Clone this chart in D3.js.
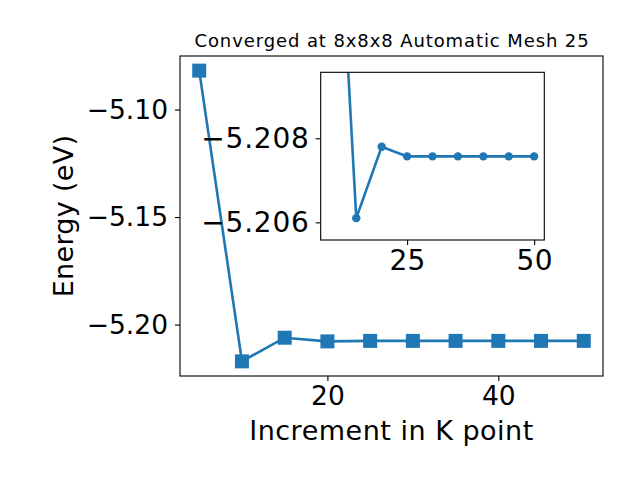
<!DOCTYPE html>
<html><head><meta charset="utf-8">
<script src="https://cdn.jsdelivr.net/npm/d3@7"></script>
<style>body{margin:0;background:#fff}svg{display:block}text{font-family:"DejaVu Sans",sans-serif;fill:#000}</style>
</head><body>
<svg id="c" width="640" height="480"></svg>
<script>
const kpoints = [5, 10, 15, 20, 25, 30, 35, 40, 45, 50];
const energy = [-5.0819, -5.2171, -5.2061, -5.2078, -5.20757, -5.20757, -5.20757, -5.20757, -5.20757, -5.20757];
const insetKpoints = [10, 15, 20, 25, 30, 35, 40, 45, 50];
const insetEnergy = [-5.2171, -5.2061, -5.2078, -5.20757, -5.20757, -5.20757, -5.20757, -5.20757, -5.20757];
const mainXTicks = [20, 40];
const mainYTicks = [-5.10, -5.15, -5.20];
const insetXTicks = [25, 50];
const insetYTicks = [-5.208, -5.206];
const titleText = "Converged at 8x8x8 Automatic Mesh 25";
const xLabel = "Increment in K point";
const yLabel = "Energy (eV)";

const color = "#1f77b4";
const svg = d3.select("#c");
const fmtMinus = s => s.replace("-", "\u2212");

function styleAxis(g, size, spacing) {
  g.select(".domain").remove();
  g.selectAll("text").style("font-size", size + "px").style("font-family", "DejaVu Sans")
    .style("letter-spacing", spacing + "px");
  g.selectAll("line").attr("stroke", "#000").attr("stroke-width", 1.1);
}

// main axes
const M = {l: 180, r: 603, t: 56, b: 376};
const x = d3.scaleLinear().domain([2.75, 52.25]).range([M.l, M.r]);
const y = d3.scaleLinear().domain([-5.2239, -5.0751]).range([M.b, M.t]);

const main = svg.append("g");
main.append("defs").append("clipPath").attr("id", "mclip")
  .append("rect").attr("x", M.l).attr("y", M.t).attr("width", M.r - M.l).attr("height", M.b - M.t);

const gx = main.append("g").attr("transform", `translate(0,${M.b})`)
  .call(d3.axisBottom(x).tickValues(mainXTicks).tickSize(5).tickPadding(5).tickFormat(d3.format("d")));
const gy = main.append("g").attr("transform", `translate(${M.l},0)`)
  .call(d3.axisLeft(y).tickValues(mainYTicks).tickSize(5).tickPadding(7).tickFormat(d => fmtMinus(d3.format(".2f")(d))));
styleAxis(gx, 26.5, 0);
styleAxis(gy, 26.5, 0);
gx.selectAll("text").attr("dy", "0.73em");

const line = d3.line().x((d, i) => x(kpoints[i])).y(d => y(d));
main.append("path").datum(energy).attr("d", line).attr("fill", "none")
  .attr("stroke", color).attr("stroke-width", 2.6).attr("clip-path", "url(#mclip)");
main.append("g").attr("clip-path", "url(#mclip)").selectAll("rect").data(energy).join("rect")
  .attr("x", (d, i) => x(kpoints[i]) - 7).attr("y", d => y(d) - 7)
  .attr("width", 14).attr("height", 14).attr("fill", color);

main.append("rect").attr("x", M.l).attr("y", M.t).attr("width", M.r - M.l).attr("height", M.b - M.t)
  .attr("fill", "none").attr("stroke", "#000").attr("stroke-width", 1.1);

main.append("text").attr("x", (M.l + M.r) / 2 + 0.5).attr("y", 47).attr("text-anchor", "middle")
  .style("font-size", "18px").style("letter-spacing", "0.9px").text(titleText);
main.append("text").attr("x", (M.l + M.r) / 2).attr("y", 440).attr("text-anchor", "middle")
  .style("font-size", "27px").style("letter-spacing", "0.5px").text(xLabel);
main.append("text").attr("transform", `translate(73,${(M.t + M.b) / 2}) rotate(-90)`).attr("text-anchor", "middle")
  .style("font-size", "27px").style("letter-spacing", "0.3px").text(yLabel);

// inset axes
const I = {l: 320.7, r: 544.3, t: 72.3, b: 240};
const xi = d3.scaleLinear().domain([8, 52]).range([I.l, I.r]);
const yi = d3.scaleLinear().domain([-5.20957, -5.20558]).range([I.t, I.b]);
const inset = svg.append("g");
inset.append("rect").attr("x", I.l).attr("y", I.t).attr("width", I.r - I.l).attr("height", I.b - I.t).attr("fill", "#fff");
inset.append("defs").append("clipPath").attr("id", "iclip")
  .append("rect").attr("x", I.l).attr("y", I.t).attr("width", I.r - I.l).attr("height", I.b - I.t);

const gxi = inset.append("g").attr("transform", `translate(0,${I.b})`)
  .call(d3.axisBottom(xi).tickValues(insetXTicks).tickSize(5).tickPadding(5).tickFormat(d3.format("d")));
const gyi = inset.append("g").attr("transform", `translate(${I.l},0)`)
  .call(d3.axisLeft(yi).tickValues(insetYTicks).tickSize(5).tickPadding(6).tickFormat(d => fmtMinus(d3.format(".3f")(d))));
styleAxis(gxi, 28, 0.3);
styleAxis(gyi, 28, 0.8);
gxi.selectAll("text").attr("dy", "0.72em");

const linei = d3.line().x((d, i) => xi(insetKpoints[i])).y(d => yi(d));
inset.append("path").datum(insetEnergy).attr("d", linei).attr("fill", "none")
  .attr("stroke", color).attr("stroke-width", 2.6).attr("clip-path", "url(#iclip)");
inset.append("g").attr("clip-path", "url(#iclip)").selectAll("circle").data(insetEnergy).join("circle")
  .attr("cx", (d, i) => xi(insetKpoints[i])).attr("cy", d => yi(d)).attr("r", 4.2).attr("fill", color);
inset.append("rect").attr("x", I.l).attr("y", I.t).attr("width", I.r - I.l).attr("height", I.b - I.t)
  .attr("fill", "none").attr("stroke", "#000").attr("stroke-width", 1.1);
</script>
</body></html>
